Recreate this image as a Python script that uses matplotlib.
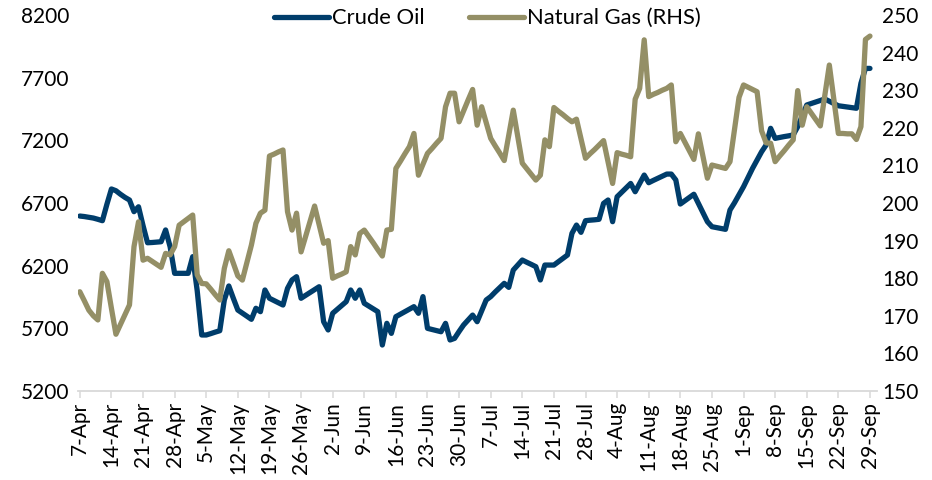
import pandas as pd
import matplotlib
matplotlib.use("Agg")
import matplotlib.pyplot as plt

plt.rcParams["font.family"] = ["Lato", "DejaVu Sans"]

# daily values, 7-Apr to 29-Sep
crude_oil = [
    6596, 6592, 6586, 6580, 6570, 6559, 6690, 6812, 6798, 6770,
    6745, 6724, 6631, 6670, 6520, 6383, 6385, 6388, 6391, 6485,
    6351, 6139, 6139, 6139, 6139, 6272, 6000, 5647, 5647, 5658,
    5670, 5681, 5926, 6038, 5940, 5846, 5822, 5797, 5772, 5860,
    5833, 6006, 5940, 5922, 5904, 5886, 6019, 6086, 6112, 5940,
    5963, 5986, 6009, 6032, 5753, 5687, 5820, 5851, 5882, 5913,
    6006, 5940, 6006, 5900, 5878, 5855, 5833, 5567, 5740, 5660,
    5793, 5813, 5833, 5853, 5873, 5820, 5953, 5700, 5691, 5682,
    5673, 5740, 5607, 5620, 5675, 5727, 5767, 5806, 5753, 5840,
    5926, 5953, 5990, 6025, 6059, 6027, 6165, 6205, 6245, 6227,
    6210, 6192, 6086, 6205, 6205, 6205, 6232, 6258, 6285, 6458,
    6524, 6466, 6559, 6563, 6566, 6570, 6697, 6724, 6551, 6750,
    6785, 6820, 6856, 6790, 6857, 6923, 6862, 6880, 6897, 6914,
    6931, 6931, 6884, 6692, 6718, 6744, 6770, 6697, 6624, 6551,
    6511, 6504, 6497, 6490, 6644, 6702, 6766, 6830, 6903, 6977,
    7043, 7109, 7163, 7296, 7216, 7223, 7230, 7236, 7243, 7309,
    7396, 7482, 7494, 7506, 7518, 7530, 7512, 7494, 7476, 7471,
    7466, 7461, 7456, 7655, 7774, 7774,
]

natural_gas = [
    176.4, 174.0, 171.5, 170.0, 168.9, 181.3, 179.1, 172.0, 165.1, 167.7,
    170.3, 172.9, 188.4, 195.0, 184.8, 185.3, 184.5, 183.7, 182.9, 186.6,
    186.2, 188.4, 194.1, 195.0, 195.9, 196.8, 180.9, 178.6, 178.5, 177.1,
    175.6, 174.2, 182.6, 187.3, 184.0, 180.6, 179.5, 184.2, 188.8, 194.6,
    197.3, 198.1, 212.5, 213.0, 213.6, 214.1, 197.7, 192.8, 197.3, 187.0,
    191.1, 195.1, 199.2, 194.2, 189.3, 190.0, 180.0, 180.6, 181.1, 181.7,
    188.4, 186.2, 191.9, 192.8, 191.1, 189.4, 187.6, 185.9, 192.8, 193.0,
    209.2, 211.1, 213.1, 215.0, 218.5, 207.4, 210.3, 213.2, 214.5, 215.9,
    217.2, 225.6, 229.2, 229.2, 221.6, 224.5, 227.4, 230.2, 220.7, 225.6,
    221.4, 217.2, 215.2, 213.3, 211.3, 218.0, 224.7, 217.7, 210.6, 209.1,
    207.6, 206.1, 207.4, 216.8, 215.0, 225.4, 224.4, 223.5, 222.5, 221.6,
    222.3, 217.1, 211.9, 213.1, 214.2, 215.4, 216.6, 210.9, 205.2, 213.4,
    213.0, 212.7, 212.3, 227.6, 230.5, 243.4, 228.3, 228.9, 229.4, 230.0,
    230.5, 231.4, 216.3, 218.5, 216.2, 213.9, 211.6, 218.4, 212.5, 206.6,
    210.1, 209.8, 209.5, 209.2, 211.0, 219.5, 228.1, 231.4, 230.8, 230.2,
    229.6, 219.2, 216.0, 215.9, 211.0, 212.5, 213.9, 215.4, 216.8, 229.9,
    220.7, 225.6, 223.9, 222.2, 220.5, 228.6, 236.7, 227.6, 218.5, 218.5,
    218.4, 218.4, 216.9, 220.3, 243.5, 244.4,
]

week_labels = [
    "7-Apr", "14-Apr", "21-Apr", "28-Apr", "5-May", "12-May", "19-May",
    "26-May", "2-Jun", "9-Jun", "16-Jun", "23-Jun", "30-Jun", "7-Jul",
    "14-Jul", "21-Jul", "28-Jul", "4-Aug", "11-Aug", "18-Aug", "25-Aug",
    "1-Sep", "8-Sep", "15-Sep", "22-Sep", "29-Sep",
]

dates = pd.date_range("2025-04-07", periods=len(crude_oil), freq="D")

navy = "#003D6B"
olive = "#948F66"
axis_grey = "#D9D9D9"
fs = 15

fig = plt.figure(figsize=(9.32, 4.8), dpi=100)
ax = fig.add_axes([0.0837, 0.1854, 0.857, 0.7833])
ax2 = ax.twinx()

l1, = ax.plot(dates, crude_oil, color=navy, lw=3.8,
              solid_capstyle="round", solid_joinstyle="round", label="Crude Oil")
l2, = ax2.plot(dates, natural_gas, color=olive, lw=3.8,
               solid_capstyle="round", solid_joinstyle="round",
               label="Natural Gas (RHS)")

ax.set_ylim(5200, 8200)
ax.set_yticks(range(5200, 8201, 500))
ax2.set_ylim(150, 250)
ax2.set_yticks(range(150, 251, 10))
ax.set_xlim(dates[0] - pd.Timedelta(days=0.4), dates[-1] + pd.Timedelta(days=1.5))
ax.set_xticks(dates[::7])
ax.set_xticklabels(week_labels, rotation=90, fontsize=fs)

for a in (ax, ax2):
    for s in ("top", "left", "right"):
        a.spines[s].set_visible(False)
ax2.spines["bottom"].set_visible(False)
ax.spines["bottom"].set_color(axis_grey)
ax.spines["bottom"].set_linewidth(1.3)

ax.tick_params(axis="y", length=0, labelsize=fs, pad=6)
ax2.tick_params(axis="y", length=0, labelsize=fs, pad=4)
ax.tick_params(axis="x", direction="out", length=5, width=1.1,
               color=axis_grey, pad=3)

fig.legend(handles=[l1, l2], loc="center", bbox_to_anchor=(0.523, 0.962),
           ncol=2, frameon=False, fontsize=15.8, handlelength=2.5,
           handletextpad=0.15, columnspacing=2.0)

fig.savefig("out.png", dpi=100)
